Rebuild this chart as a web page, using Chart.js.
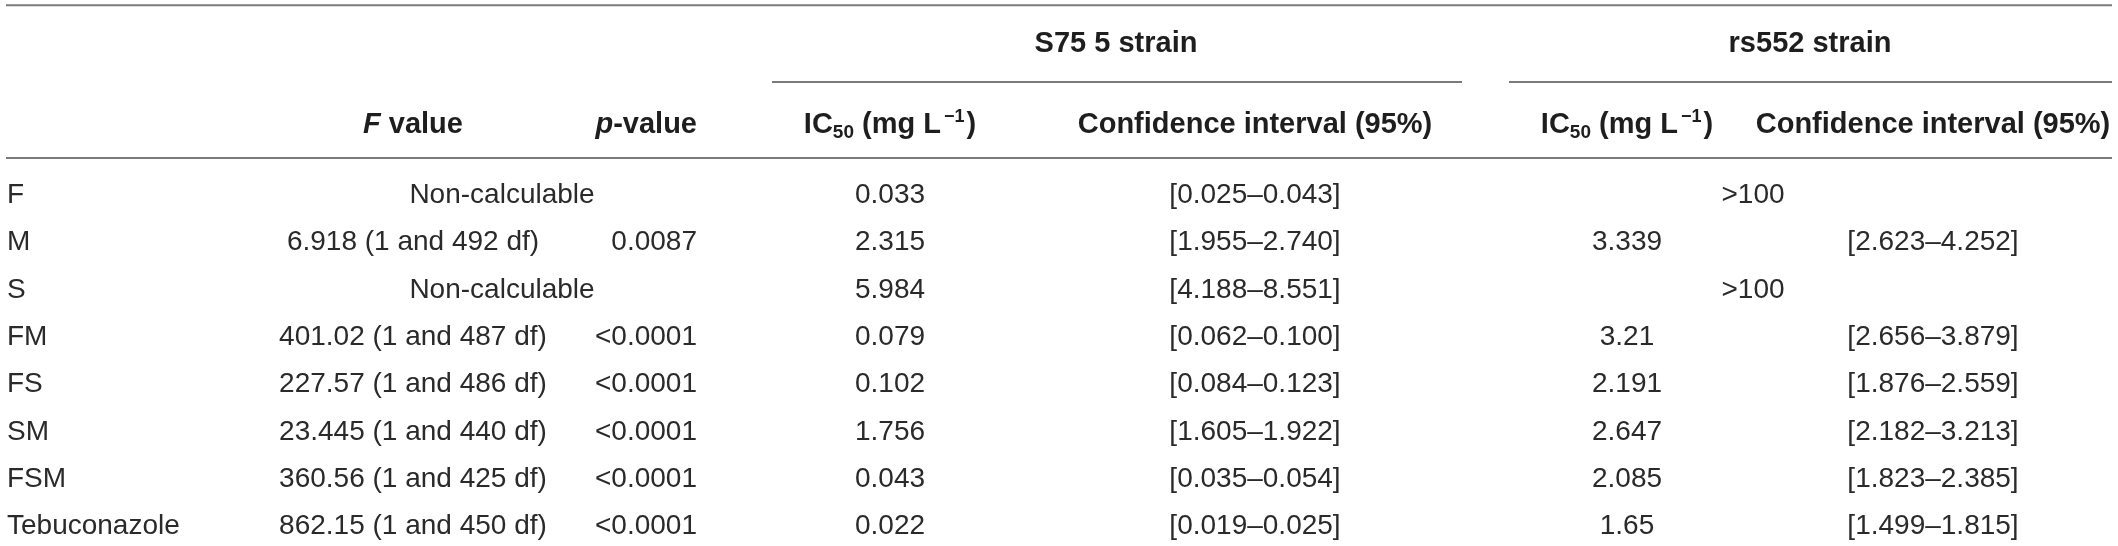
<!DOCTYPE html>
<html>
<head>
<meta charset="utf-8">
<script src="https://cdn.jsdelivr.net/npm/chart.js@4"></script>
<style>
    html, body { margin: 0; padding: 0; background: #fff; }
    #wrap { width: 2118px; height: 546px; position: relative; }
</style>
</head>
<body>
<div id="wrap"><canvas id="ic50Table"></canvas></div>
<script>
// table values
const compounds = ['F', 'M', 'S', 'FM', 'FS', 'SM', 'FSM', 'Tebuconazole'];
const fStat = [null, 6.918, null, 401.02, 227.57, 23.445, 360.56, 862.15];
const dfError = [null, 492, null, 487, 486, 440, 425, 450];
const pValues = [null, '0.0087', null, '<0.0001', '<0.0001', '<0.0001', '<0.0001', '<0.0001'];
const s75Ic50 = [0.033, 2.315, 5.984, 0.079, 0.102, 1.756, 0.043, 0.022];
const s75Low = [0.025, 1.955, 4.188, 0.062, 0.084, 1.605, 0.035, 0.019];
const s75High = [0.043, 2.740, 8.551, 0.100, 0.123, 1.922, 0.054, 0.025];
const rs552Ic50 = [null, 3.339, null, 3.21, 2.191, 2.647, 2.085, 1.65];
const rs552Low = [null, 2.623, null, 2.656, 1.876, 2.182, 1.823, 1.499];
const rs552High = [null, 4.252, null, 3.879, 2.559, 3.213, 2.385, 1.815];
const strains = ['S75 5 strain', 'rs552 strain'];

// layout (x in canvas px, y in row units)
const col = {
    label: 7, fval: 413, nonCalc: 502, pval: 697,
    s75Ic: 890, s75Ci: 1255, rsIc: 1627, over100: 1753, rsCi: 1933,
    s75Group: 1116, rsGroup: 1810
};
const rowY = { group: -3.19, head: -1.48, topLine: -4.18, subLine: -2.56, headLine: -0.95 };

const FONT = '"Liberation Sans", Arial, sans-serif';
const dataFont = '28px ' + FONT;
const headFont = 'bold 29px ' + FONT;
const TXT = '#2a2a2a';

function drawRuns(ctx, runs, x, y, align) {
    let w = 0;
    runs.forEach(r => { ctx.font = r.font; w += ctx.measureText(r.t).width + (r.gap || 0); });
    let cx = align === 'center' ? x - w / 2 : (align === 'right' ? x - w : x);
    ctx.textAlign = 'left';
    runs.forEach(r => {
        ctx.font = r.font;
        cx += (r.gap || 0);
        ctx.fillText(r.t, cx, y + (r.dy || 0));
        cx += ctx.measureText(r.t).width;
    });
}

function cell(ctx, text, x, y, align, font) {
    ctx.font = font || dataFont;
    ctx.textAlign = align;
    ctx.fillText(text, x, y);
}

const fmt3 = v => v.toFixed(3);
const ci = (lo, hi) => '[' + fmt3(lo) + '\u2013' + fmt3(hi) + ']';

const tableText = {
    id: 'tableText',
    afterDatasetsDraw(chart) {
        const { ctx, scales: { x, y } } = chart;
        const px = v => x.getPixelForValue(v);
        const py = v => y.getPixelForValue(v);
        ctx.save();

        // rules
        ctx.strokeStyle = '#7a7a7a';
        ctx.lineWidth = 2;
        const hline = (x0, x1, r) => {
            ctx.beginPath();
            ctx.moveTo(px(x0), py(r));
            ctx.lineTo(px(x1), py(r));
            ctx.stroke();
        };
        hline(6, 2112, rowY.topLine);
        hline(772, 1462, rowY.subLine);
        hline(1509, 2112, rowY.subLine);
        hline(6, 2112, rowY.headLine);

        ctx.fillStyle = '#1e1e1e';
        ctx.textBaseline = 'alphabetic';

        // strain headers
        cell(ctx, strains[0], px(col.s75Group), py(rowY.group), 'center', headFont);
        cell(ctx, strains[1], px(col.rsGroup), py(rowY.group), 'center', headFont);

        // column headers
        const hy = py(rowY.head);
        const bi = 'italic bold 29px ' + FONT;
        drawRuns(ctx, [{ t: 'F', font: bi }, { t: ' value', font: headFont }], px(col.fval), hy, 'center');
        drawRuns(ctx, [{ t: 'p', font: bi }, { t: '-value', font: headFont }], px(col.pval), hy, 'right');
        const icRuns = [
            { t: 'IC', font: headFont },
            { t: '50', font: 'bold 19px ' + FONT, dy: 5 },
            { t: ' (mg L', font: headFont },
            { t: '\u22121', font: 'bold 18px ' + FONT, dy: -11, gap: 3 },
            { t: ')', font: headFont, gap: 2 }
        ];
        drawRuns(ctx, icRuns, px(col.s75Ic), hy, 'center');
        drawRuns(ctx, icRuns, px(col.rsIc), hy, 'center');
        cell(ctx, 'Confidence interval (95%)', px(col.s75Ci), hy, 'center', headFont);
        cell(ctx, 'Confidence interval (95%)', px(col.rsCi), hy, 'center', headFont);

        // body
        ctx.fillStyle = TXT;
        compounds.forEach((name, i) => {
            const ry = py(i);
            cell(ctx, name, px(col.label), ry, 'left');
            if (fStat[i] === null) {
                cell(ctx, 'Non-calculable', px(col.nonCalc), ry, 'center');
            } else {
                cell(ctx, fStat[i] + ' (1 and ' + dfError[i] + ' df)', px(col.fval), ry, 'center');
                cell(ctx, pValues[i], px(col.pval), ry, 'right');
            }
            cell(ctx, fmt3(s75Ic50[i]), px(col.s75Ic), ry, 'center');
            cell(ctx, ci(s75Low[i], s75High[i]), px(col.s75Ci), ry, 'center');
            if (rs552Ic50[i] === null) {
                cell(ctx, '>100', px(col.over100), ry, 'center');
            } else {
                cell(ctx, String(rs552Ic50[i]), px(col.rsIc), ry, 'center');
                cell(ctx, ci(rs552Low[i], rs552High[i]), px(col.rsCi), ry, 'center');
            }
        });
        ctx.restore();
    }
};

var ctx = document.getElementById('ic50Table');
var myChart = new Chart(ctx, {
    type: 'scatter',
    data: {
        datasets: [{
            label: 'rows',
            data: compounds.map((c, i) => ({ x: col.label, y: i })),
            pointRadius: 0,
            showLine: false
        }]
    },
    options: {
        responsive: true,
        maintainAspectRatio: false,
        animation: false,
        layout: { padding: 0 },
        scales: {
            x: { type: 'linear', display: false, min: 0, max: 2118 },
            y: { type: 'linear', display: false, reverse: true, min: -203 / 47.3, max: 343 / 47.3 }
        },
        plugins: {
            legend: { display: false },
            tooltip: { enabled: false }
        }
    },
    plugins: [tableText]
});
</script>
</body>
</html>
